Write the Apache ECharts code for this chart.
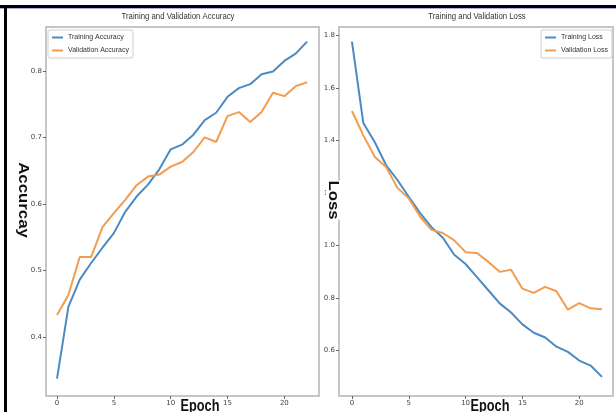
<!DOCTYPE html>
<html>
<head>
<meta charset="utf-8">
<script src="https://cdn.jsdelivr.net/npm/echarts@6/dist/echarts.min.js"></script>
<style>
html,body{margin:0;padding:0;background:#fff;}
#chart{width:616px;height:412px;}
</style>
</head>
<body>
<div id="chart"></div>
<script>
var epochs = [0,1,2,3,4,5,6,7,8,9,10,11,12,13,14,15,16,17,18,19,20,21,22];
var trainAcc = [0.337,0.445,0.486,0.511,0.534,0.556,0.588,0.611,0.629,0.652,0.682,0.689,0.704,0.726,0.737,0.761,0.774,0.780,0.795,0.799,0.815,0.826,0.844];
var valAcc = [0.433,0.463,0.520,0.520,0.565,0.586,0.606,0.628,0.641,0.644,0.656,0.663,0.678,0.700,0.693,0.732,0.738,0.723,0.738,0.767,0.762,0.777,0.783];
var trainLoss = [1.777,1.467,1.395,1.307,1.250,1.186,1.124,1.070,1.030,0.965,0.930,0.880,0.830,0.780,0.745,0.700,0.668,0.650,0.615,0.595,0.562,0.543,0.500];
var valLoss = [1.513,1.420,1.339,1.300,1.220,1.180,1.110,1.060,1.048,1.020,0.975,0.972,0.938,0.900,0.908,0.836,0.820,0.843,0.826,0.756,0.781,0.761,0.758];
var xTicks = [0,5,10,15,20];
var accTicks = [0.4,0.5,0.6,0.7,0.8];
var lossTicks = [0.6,0.8,1.0,1.2,1.4,1.6,1.8];

var BLUE = '#4b8bc3';
var ORANGE = '#f39c4e';

function pairs(xs, ys){ return xs.map(function(x,i){ return [x, ys[i]]; }); }

var chart = echarts.init(document.getElementById('chart'), null, {renderer:'canvas'});

function xAxisCfg(gi, mn, mx){
  return {
    type:'value', gridIndex:gi, min:mn, max:mx,
    axisLine:{show:false, onZero:false},
    splitLine:{show:false},
    axisTick:{show:true, length:3, customValues:xTicks, lineStyle:{color:'#666'}},
    axisLabel:{show:true, customValues:xTicks, fontSize:7, color:'#444', margin:4, fontFamily:'DejaVu Sans'}
  };
}
function yAxisCfg(gi, mn, mx, ticks){
  return {
    type:'value', gridIndex:gi, min:mn, max:mx,
    axisLine:{show:false, onZero:false},
    splitLine:{show:false},
    axisTick:{show:true, length:3, customValues:ticks, lineStyle:{color:'#666'}},
    axisLabel:{show:true, customValues:ticks, fontSize:7, color:'#444', margin:4, fontFamily:'DejaVu Sans',
      formatter:function(v){ return Number(v).toFixed(1); }}
  };
}

var legendBase = {
  orient:'vertical', icon:'rect', itemWidth:11, itemHeight:2, itemGap:6,
  textStyle:{fontSize:7, color:'#333', fontFamily:'Liberation Sans'},
  borderColor:'#cfcfcf', borderWidth:1, borderRadius:2, padding:[4,4,4,4],
  backgroundColor:'#fff'
};

var option = {
  animation:false,
  backgroundColor:'#fff',
  grid:[
    {left:46, top:27, width:273, height:369, show:true, borderColor:'#b4b4b4', borderWidth:1.5, backgroundColor:'transparent'},
    {left:339, top:27, width:274, height:369, show:true, borderColor:'#b4b4b4', borderWidth:1.5, backgroundColor:'transparent'}
  ],
  xAxis:[ xAxisCfg(0, -0.97, 23.05), xAxisCfg(1, -1.14, 22.97) ],
  yAxis:[ yAxisCfg(0, 0.311, 0.866, accTicks), yAxisCfg(1, 0.427, 1.833, lossTicks) ],
  legend:[
    Object.assign({}, legendBase, {left:48, top:30, data:['Training Accuracy','Validation Accuracy']}),
    Object.assign({}, legendBase, {right:4, top:30, data:['Training Loss','Validation Loss']})
  ],
  series:[
    {name:'Training Accuracy', type:'line', xAxisIndex:0, yAxisIndex:0, data:pairs(epochs, trainAcc), showSymbol:false, color:BLUE, lineStyle:{width:2, color:BLUE}},
    {name:'Validation Accuracy', type:'line', xAxisIndex:0, yAxisIndex:0, data:pairs(epochs, valAcc), showSymbol:false, color:ORANGE, lineStyle:{width:2, color:ORANGE}},
    {name:'Training Loss', type:'line', xAxisIndex:1, yAxisIndex:1, data:pairs(epochs, trainLoss), showSymbol:false, color:BLUE, lineStyle:{width:2, color:BLUE}},
    {name:'Validation Loss', type:'line', xAxisIndex:1, yAxisIndex:1, data:pairs(epochs, valLoss), showSymbol:false, color:ORANGE, lineStyle:{width:2, color:ORANGE}}
  ],
  graphic:[
    {type:'rect', shape:{x:0, y:5, width:616, height:3}, style:{fill:'#000'}, z:100},
    {type:'rect', shape:{x:0, y:8, width:616, height:1}, style:{fill:'#b9a8de'}, z:100},
    {type:'rect', shape:{x:4, y:5, width:3, height:407}, style:{fill:'#000'}, z:100},
    {type:'text', x:178, y:16, scaleX:0.82, z:100,
      style:{text:'Training and Validation Accuracy', font:'9.5px "Liberation Sans"', fill:'#333', textAlign:'center', textVerticalAlign:'middle'}},
    {type:'text', x:477, y:16, scaleX:0.82, z:100,
      style:{text:'Training and Validation Loss', font:'9.5px "Liberation Sans"', fill:'#333', textAlign:'center', textVerticalAlign:'middle'}},
    {type:'text', x:23, y:200, rotation:-Math.PI/2, scaleX:1.2, z:100,
      style:{text:'Accurcay', font:'bold 14px "Liberation Sans"', fill:'#111', textAlign:'center', textVerticalAlign:'middle'}},
    {type:'text', x:333, y:200, rotation:-Math.PI/2, scaleX:1.2, z:100,
      style:{text:'Loss', font:'bold 14px "Liberation Sans"', fill:'#111', textAlign:'center', textVerticalAlign:'middle', backgroundColor:'#fff'}},
    {type:'text', x:200, y:398, scaleX:0.75, z:100,
      style:{text:'Epoch', font:'bold 17px "Liberation Sans"', fill:'#111', textAlign:'center', textVerticalAlign:'top'}},
    {type:'text', x:490, y:398, scaleX:0.75, z:100,
      style:{text:'Epoch', font:'bold 17px "Liberation Sans"', fill:'#111', textAlign:'center', textVerticalAlign:'top'}}
  ]
};
chart.setOption(option);
</script>
</body>
</html>
